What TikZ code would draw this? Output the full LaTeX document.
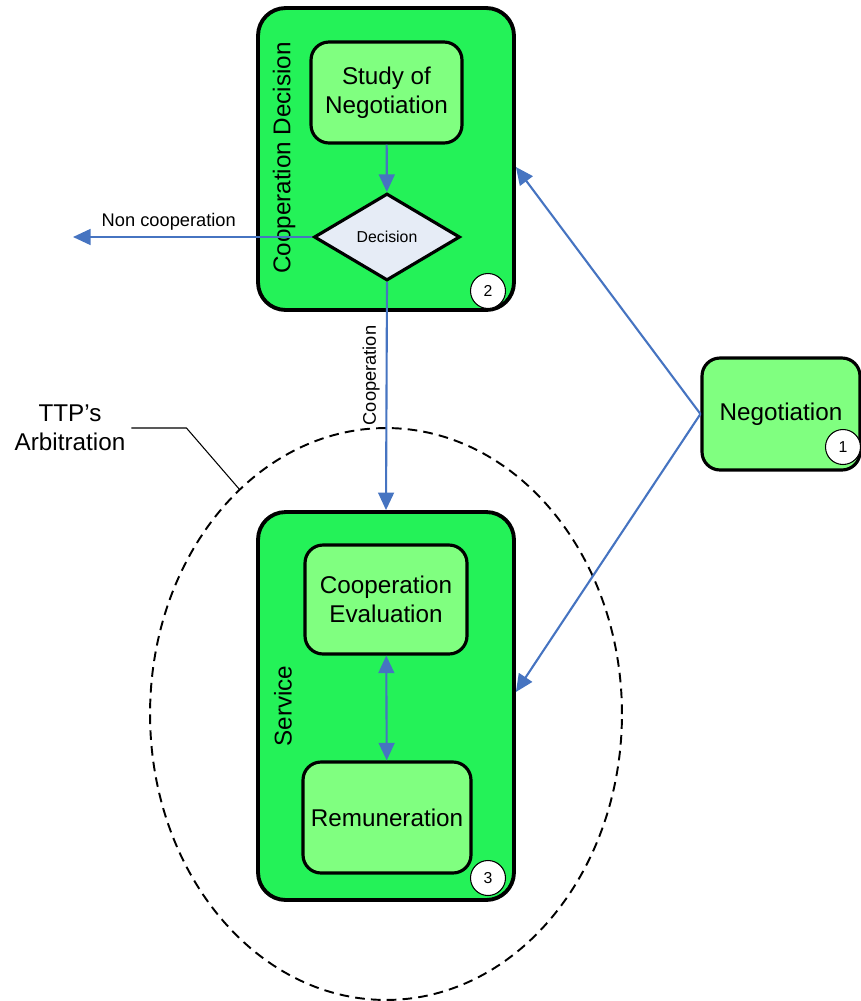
\documentclass[tikz,border=0pt]{standalone}
\usepackage{fontspec}
\setmainfont{Liberation Sans}
\usetikzlibrary{arrows.meta, shapes.geometric}
\definecolor{grpgreen}{RGB}{36,242,88}
\definecolor{actgreen}{RGB}{128,255,128}
\definecolor{decfill}{RGB}{230,236,246}
\definecolor{flow}{RGB}{70,116,193}

\begin{document}
\begin{tikzpicture}[x=0.02cm, y=-0.02cm, font=\fontsize{13.8}{16.4}\selectfont, >={Triangle[length=10pt, width=9pt]},
  grp/.style={draw, line width=2.2pt, rounded corners=0.55cm, fill=grpgreen, minimum width=5.12cm, inner sep=0pt},
  act/.style={draw, line width=1.8pt, rounded corners=0.36cm, fill=actgreen, align=center, inner sep=0pt},
  num/.style={circle, draw, fill=white, line width=0.6pt, minimum size=0.7cm, inner sep=0pt, font=\fontsize{9}{10}\selectfont},
  flw/.style={flow, line width=1.2pt},
  small/.style={text=black, font=\fontsize{10.4}{12}\selectfont}]
\useasboundingbox (0,0) rectangle (860,1001);
% arbitration area
\node[ellipse, draw, dashed, dash pattern=on 5.5pt off 3.5pt, line width=1.1pt, minimum width=9.44cm, minimum height=11.44cm] (arb) at (386,714) {};
\node[align=center] (ttp) at (70,428) {TTP’s\\Arbitration};
\coordinate (lk) at (240,490);
\draw[line width=0.6pt] (ttp.east) -- ++(55,0) -- (lk);
% cooperation decision
\node[grp, minimum height=6.04cm] (cd) at (386,159) {};
\node[rotate=90] (cdl) at (284,158) {Cooperation Decision};
\node[act, minimum width=3.02cm, minimum height=2.02cm] (study) at (386.5,92.5) {Study of\\Negotiation};
\node[diamond, draw, line width=1.8pt, fill=decfill, minimum width=2.92cm, minimum height=1.74cm, inner sep=0pt, font=\fontsize{9}{10}\selectfont] (dec) at (387,237) {Decision};
\node[num] (n2) at (488,291) {2};
% service
\node[grp, minimum height=7.76cm] (svc) at (386,706) {};
\node[rotate=90] (svl) at (283,706) {Service};
\node[act, minimum width=3.24cm, minimum height=2.18cm] (eval) at (386,599.5) {Cooperation\\Evaluation};
\node[act, minimum width=3.36cm, minimum height=2.22cm] (rem) at (387,817.5) {Remuneration};
\node[num] (n3) at (488,878) {3};
% negotiation
\node[act, minimum width=3.16cm, minimum height=2.24cm] (neg) at (781,414) {Negotiation};
\node[num] (n1) at (843,447) {1};
\coordinate (nc) at (73,237);
\draw[flw, ->] (study) -- (dec);
\draw[flw, ->] (dec.west) -- (nc) node[small, pos=0.6, above] {Non cooperation};
\draw[flw, ->] (dec.south) -- (svc.north) node[small, pos=0.41, anchor=south, rotate=90] {Cooperation};
\draw[flw, <->] (eval) -- (rem);
\draw[flw, ->] (neg.west) -- ([yshift=-0.16cm]cd.east);
\draw[flw, ->] (neg.west) -- ([yshift=0.28cm]svc.east);
\end{tikzpicture}
\end{document}
